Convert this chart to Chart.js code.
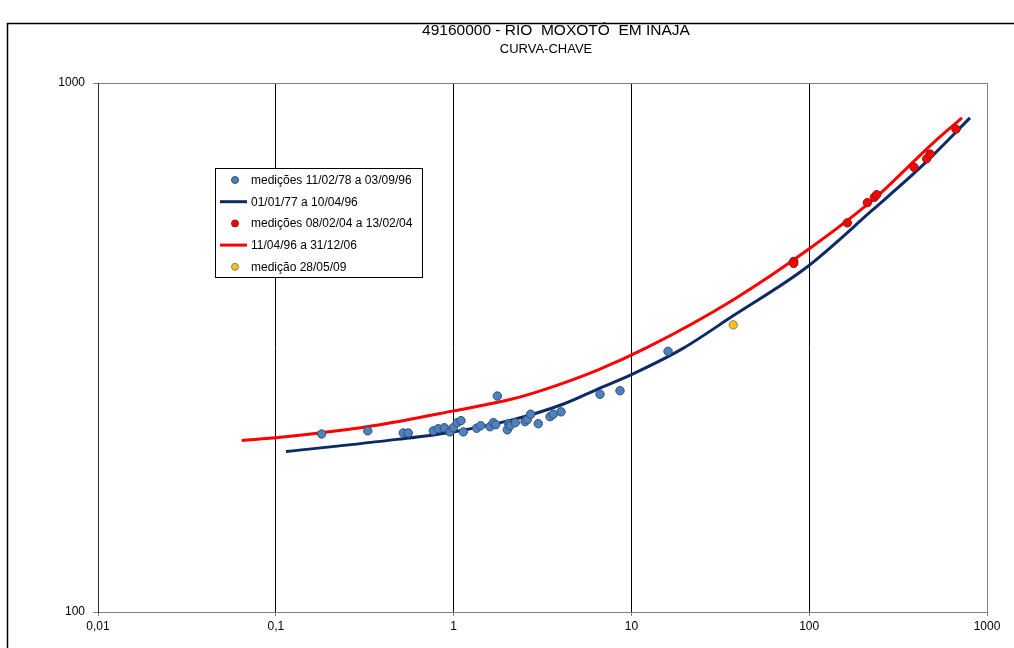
<!DOCTYPE html>
<html>
<head>
<meta charset="utf-8">
<title>Curva-chave</title>
<script src="https://cdn.jsdelivr.net/npm/chart.js@4"></script>
<style>
  html, body { margin: 0; padding: 0; background: #fff; }
  #wrap { width: 1014px; height: 648px; }
</style>
</head>
<body>
<div id="wrap"><canvas id="chartCanvas" width="1014" height="648"></canvas></div>
<script>
const TITLE = '49160000 - RIO  MOXOTÓ  EM INAJA';
const SUBTITLE = 'CURVA-CHAVE';

// vazão (m3/s) x cota (cm)
const blueQ = [0.181, 0.329, 0.521, 0.556, 0.769, 0.820, 0.887, 0.954, 0.996, 1.049, 1.100, 1.134, 1.348, 1.420, 1.602, 1.673, 1.725, 1.762, 2.005, 2.042, 2.076, 2.223, 2.521, 2.597, 2.714, 2.995, 3.485, 3.638, 4.018, 6.660, 8.628, 16.07];
const blueH = [217, 220, 218, 218, 220, 222, 223, 219, 223, 228, 230, 219, 222.5, 225, 224, 228, 226, 256, 221, 227, 225, 228, 229, 231, 236.5, 227, 234, 236.5, 239, 258, 262, 311];

const curve1Q = [0.114, 0.480, 0.992, 2.16, 4.12, 6.66, 10.0, 19.5, 37.3, 97.2, 228, 437, 802];
const curve1H = [201, 212, 219, 231, 247, 265, 281, 315, 363, 449, 576, 700, 859];

const redQ = [81.8, 81.8, 163.8, 212.3, 232.4, 239.7, 388.6, 458.0, 477.9, 669.2];
const redH = [460, 456, 544, 594, 608, 615, 693, 719, 734, 818];

const curve2Q = [0.0643, 0.106, 0.386, 1.0, 2.16, 3.2, 6.5, 12.2, 37.3, 101, 228, 497, 723];
const curve2H = [211, 214, 226, 240, 253, 263, 287, 316, 389, 487, 601, 770, 859];

const yellowQ = [37.4];
const yellowH = [349];

const xTicks = [0.01, 0.1, 1, 10, 100, 1000];
const yTicks = [100, 1000];

const FONT = '"Liberation Sans", Arial, sans-serif';

function pts(xs, ys) {
  return xs.map((x, i) => ({ x: x, y: ys[i] }));
}

const decor = {
  id: 'decor',
  beforeDraw(chart) {
    const ctx = chart.ctx;
    ctx.save();
    ctx.fillStyle = '#fff';
    ctx.fillRect(0, 0, chart.width, chart.height);
    ctx.strokeStyle = '#000';
    ctx.lineWidth = 1.5;
    ctx.beginPath();
    ctx.moveTo(7.5, chart.height);
    ctx.lineTo(7.5, 23.5);
    ctx.lineTo(chart.width, 23.5);
    ctx.stroke();
    ctx.fillStyle = '#000';
    ctx.textAlign = 'center';
    ctx.textBaseline = 'alphabetic';
    ctx.font = '15.5px ' + FONT;
    ctx.fillText(TITLE, 556, 35);
    ctx.font = '13px ' + FONT;
    ctx.fillText(SUBTITLE, 546, 53);
    ctx.restore();
  },
  afterDraw(chart) {
    // legenda dentro da área do gráfico
    const ctx = chart.ctx;
    ctx.save();
    ctx.fillStyle = '#fff';
    ctx.fillRect(215.5, 168.5, 207, 109);
    ctx.strokeStyle = '#000';
    ctx.lineWidth = 1;
    ctx.strokeRect(215.5, 168.5, 207, 109);
    ctx.font = '12px ' + FONT;
    ctx.textBaseline = 'middle';
    ctx.textAlign = 'left';
    chart.data.datasets.forEach((ds, i) => {
      const y = 180 + i * 21.7;
      if (ds.showLine) {
        ctx.strokeStyle = ds.borderColor;
        ctx.lineWidth = 3;
        ctx.beginPath();
        ctx.moveTo(220, y);
        ctx.lineTo(247, y);
        ctx.stroke();
      } else {
        ctx.fillStyle = ds.backgroundColor;
        ctx.strokeStyle = ds.borderColor;
        ctx.lineWidth = 1;
        ctx.beginPath();
        ctx.arc(235, y, 3.5, 0, Math.PI * 2);
        ctx.fill();
        ctx.stroke();
      }
      ctx.fillStyle = '#000';
      ctx.fillText(ds.label, 251, y + 0.5);
    });
    ctx.restore();
  }
};

new Chart(document.getElementById('chartCanvas'), {
  type: 'scatter',
  data: {
    datasets: [
      {
        label: 'medições 11/02/78 a 03/09/96',
        data: pts(blueQ, blueH),
        backgroundColor: '#4f81bd',
        borderColor: '#2f4f7a',
        borderWidth: 1,
        pointRadius: 4.2,
        order: 2,
      },
      {
        label: '01/01/77 a 10/04/96',
        data: pts(curve1Q, curve1H),
        showLine: true,
        borderColor: '#0e2a66',
        backgroundColor: '#0e2a66',
        borderWidth: 3,
        pointRadius: 0,
        cubicInterpolationMode: 'monotone',
        order: 4,
      },
      {
        label: 'medições 08/02/04 a 13/02/04',
        data: pts(redQ, redH),
        backgroundColor: '#ff0000',
        borderColor: '#7a2020',
        borderWidth: 1,
        pointRadius: 4.2,
        order: 1,
      },
      {
        label: '11/04/96 a 31/12/06',
        data: pts(curve2Q, curve2H),
        showLine: true,
        borderColor: '#ff0000',
        backgroundColor: '#ff0000',
        borderWidth: 3,
        pointRadius: 0,
        cubicInterpolationMode: 'monotone',
        order: 3,
      },
      {
        label: 'medição 28/05/09',
        data: pts(yellowQ, yellowH),
        backgroundColor: '#ffc000',
        borderColor: '#7f7f7f',
        borderWidth: 1,
        pointRadius: 4.2,
        order: 0,
      },
    ],
  },
  options: {
    responsive: false,
    animation: false,
    layout: { padding: { left: 0, right: 27, top: 83, bottom: 0 } },
    plugins: {
      legend: { display: false },
      title: { display: false },
      tooltip: { enabled: false },
    },
    scales: {
      x: {
        type: 'logarithmic',
        position: 'bottom',
        min: 0.01,
        max: 1000,
        afterBuildTicks: s => { s.ticks = xTicks.map(v => ({ value: v })); },
        afterFit: s => { s.height = 36; },
        ticks: {
          autoSkip: false,
          maxRotation: 0,
          padding: 3,
          color: '#000',
          font: { family: FONT, size: 12 },
          callback: v => String(v).replace('.', ','),
        },
        grid: {
          color: c => (c.tick && (c.tick.value === 0.01 || c.tick.value === 1000)) ? '#808080' : '#000',
          tickColor: '#808080',
          tickLength: 4,
        },
        border: { color: '#808080' },
      },
      y: {
        type: 'logarithmic',
        min: 100,
        max: 1000,
        afterBuildTicks: s => { s.ticks = yTicks.map(v => ({ value: v })); },
        afterFit: s => { s.width = 98; },
        ticks: {
          padding: 8,
          color: '#000',
          font: { family: FONT, size: 12 },
          callback: v => String(v),
        },
        grid: {
          color: '#808080',
          tickColor: '#808080',
          tickLength: 5,
        },
        border: { color: '#303030' },
      },
    },
  },
  plugins: [decor],
});
</script>
</body>
</html>
